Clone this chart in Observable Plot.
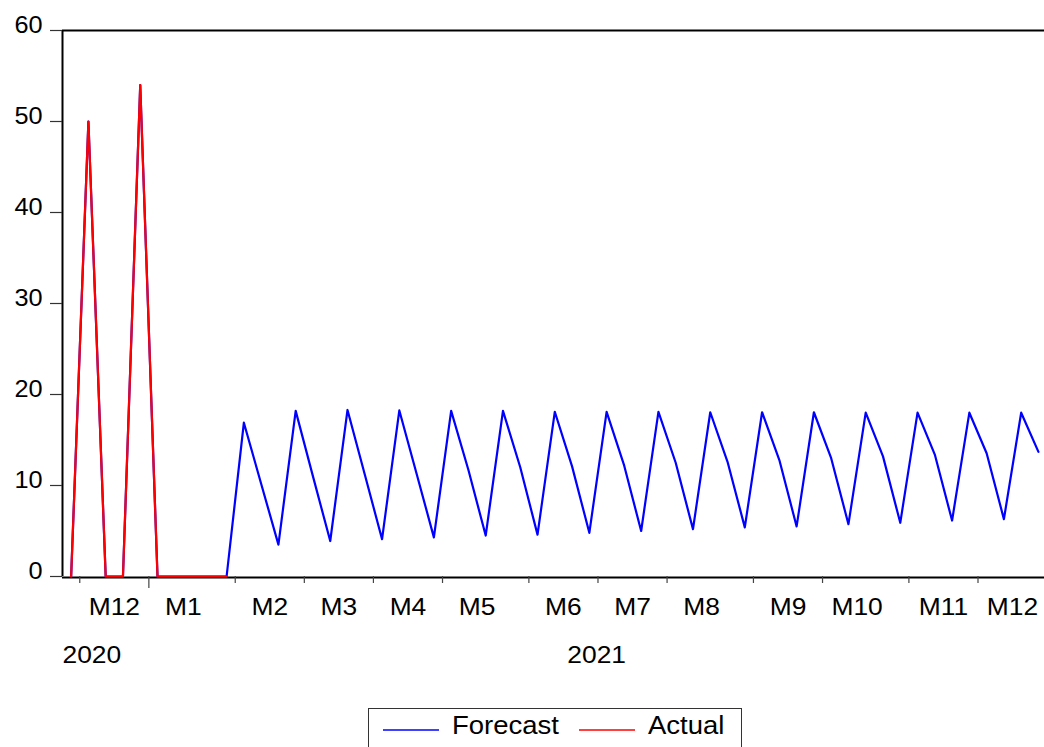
<!DOCTYPE html>
<html><head><meta charset="utf-8">
<script src="https://cdn.jsdelivr.net/npm/d3@7"></script>
<script src="https://cdn.jsdelivr.net/npm/@observablehq/plot@0.6"></script>
<style>
html,body{margin:0;padding:0;background:#fff;overflow:hidden;}
#wrap{position:relative;width:1044px;height:747px;font-family:"Liberation Sans",Arial,sans-serif;}
#legend{position:absolute;left:368px;top:708px;width:374px;height:60px;box-sizing:border-box;border:1px solid #333;background:#fff;}
</style></head>
<body><div id="wrap"><div id="chart"></div><div id="legend"></div></div>
<script>
// ---- data (weekly observations, weeks starting Sunday) ----
const firstWeek = "2020-11-29";
const forecast = [
  0, 50, 0, 0, 54, 0, 0, 0, 0, 0,
  16.9, 10.2, 3.5,
  18.2, 11.0, 3.9,
  18.3, 11.2, 4.1,
  18.25, 11.3, 4.3,
  18.2, 11.7, 4.5,
  18.2, 12.0, 4.6,
  18.1, 12.1, 4.8,
  18.1, 12.3, 5.0,
  18.1, 12.5, 5.2,
  18.05, 12.6, 5.4,
  18.05, 12.8, 5.5,
  18.05, 13.0, 5.75,
  18.0, 13.2, 5.9,
  18.0, 13.4, 6.15,
  18.0, 13.55, 6.3,
  18.0, 13.7
];
const actual = [0, 50, 0, 0, 54, 0, 0, 0, 0, 0];
const yTicks = [0, 10, 20, 30, 40, 50, 60];
const seriesNames = ["Forecast", "Actual"];
const seriesColors = ["#0000ff", "#ff0000"];

// ---- derived tables ----
const start = new Date(firstWeek + "T00:00:00Z");
const dates = forecast.map((_, i) => d3.utcDay.offset(start, 7 * i));
const fRows = forecast.map((v, i) => ({i, v}));
const aRows = actual.map((v, i) => ({i, v}));
const xDomain = [-0.5, forecast.length - 0.65];

const monthBounds = [], yearBounds = [], monthLabels = [];
dates.forEach((d, i) => {
  if (i === 0) return;
  const p = dates[i - 1];
  if (d.getUTCMonth() !== p.getUTCMonth()) {
    const b = i - 0.5;
    monthLabels.push({x: b + 2, label: "M" + (d.getUTCMonth() + 1)});
    if (d.getUTCFullYear() !== p.getUTCFullYear()) yearBounds.push(b);
    else monthBounds.push(b);
  }
});
const years = d3.groups(dates.map((d, i) => ({i, y: d.getUTCFullYear()})), r => r.y);
const yearLabels = years.map(([y, rs]) => {
  const s = Math.max(xDomain[0], rs[0].i - 0.5);
  const e = Math.min(xDomain[1], rs[rs.length - 1].i + 0.5);
  const narrow = (e - s) < 8;
  return {x: narrow ? s : (s + e) / 2, label: String(y), narrow};
});

const FONT = '"Liberation Sans", Arial, sans-serif';

const chart = Plot.plot({
  width: 1044, height: 700,
  marginLeft: 62, marginRight: 0, marginTop: 30, marginBottom: 124,
  x: {type: "linear", domain: xDomain, axis: null},
  y: {domain: [0, 60], axis: null},
  style: {fontFamily: FONT, background: "#fff", color: "#000"},
  marks: [
    Plot.ruleY([60], {stroke: "#000", strokeWidth: 2}),
    Plot.ruleY([0], {stroke: "#000", strokeWidth: 2, dy: 1}),
    Plot.ruleX([xDomain[0]], {stroke: "#000", strokeWidth: 2}),
    Plot.axisY(yTicks, {tickSize: 12, fill: "none", stroke: "#333", strokeWidth: 1.2}),
    Plot.axisX(monthBounds, {tickSize: 7, fill: "none", stroke: "#444", strokeWidth: 1.2}),
    Plot.axisX(yearBounds, {tickSize: 12, fill: "none", stroke: "#444", strokeWidth: 1.2}),
    Plot.line(fRows, {x: "i", y: "v", stroke: seriesColors[0], strokeWidth: 2.2}),
    Plot.line(aRows, {x: "i", y: "v", stroke: seriesColors[1], strokeWidth: 2.2}),
    Plot.text(yTicks, {y: d => d, text: d => String(d), frameAnchor: "left", dx: -20, dy: 2.5,
      textAnchor: "end", lineAnchor: "bottom", fontSize: 23, fill: "#000"}),
    Plot.text(monthLabels, {x: "x", y: () => 0, text: "label", dy: 38, lineAnchor: "bottom",
      fontSize: 24, fill: "#000"}),
    Plot.text(yearLabels.filter(d => d.narrow), {x: "x", y: () => 0, text: "label", textAnchor: "start",
      dy: 86, lineAnchor: "bottom", fontSize: 24, fill: "#000"}),
    Plot.text(yearLabels.filter(d => !d.narrow), {x: "x", y: () => 0, text: "label", textAnchor: "middle",
      dy: 86, lineAnchor: "bottom", fontSize: 24, fill: "#000"})
  ]
});

// horizontal stretch of the text glyphs (the original is slightly widened)
function stretchText(root, s) {
  root.querySelectorAll("text").forEach(t => {
    const x = +t.getAttribute("x") || 0, y = +t.getAttribute("y") || 0;
    t.removeAttribute("x"); t.removeAttribute("y");
    const tr = t.getAttribute("transform") || "";
    t.setAttribute("transform", `${tr} translate(${x},${y}) scale(${s},1)`.trim());
  });
}
stretchText(chart, 1.1);
document.getElementById("chart").append(chart);

// ---- legend ----
const lg = d3.select("#legend").append("svg").attr("width", 372).attr("height", 60)
  .style("display", "block");
const items = [{x: 14}, {x: 210}];
seriesNames.forEach((name, k) => {
  const x0 = items[k].x;
  lg.append("line").attr("x1", x0).attr("x2", x0 + 56).attr("y1", 21).attr("y2", 21)
    .attr("stroke", seriesColors[k]).attr("stroke-width", 1.4);
  lg.append("text").attr("transform", `translate(${x0 + 69},25) scale(1.1,1)`)
    .attr("font-family", FONT).attr("font-size", 25).attr("fill", "#000").text(name);
});
</script></body></html>
